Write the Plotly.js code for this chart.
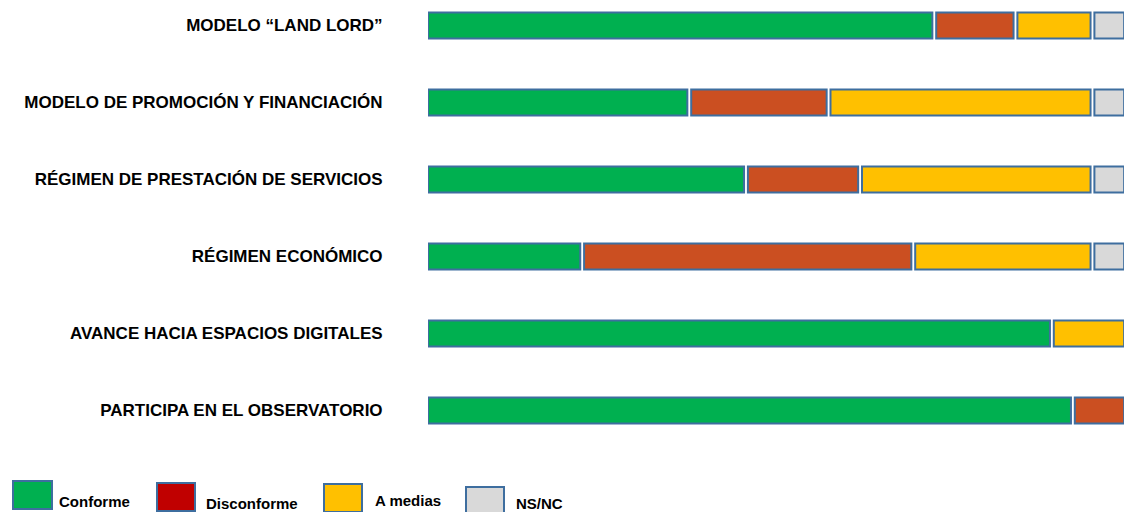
<!DOCTYPE html>
<html>
<head>
<meta charset="utf-8">
<script src="https://cdn.plot.ly/plotly-3.0.1.min.js"></script>
<style>html,body{margin:0;padding:0;background:#fff;}#chart{width:1124px;height:512px;}</style>
</head>
<body>
<div id="chart"></div>
<script>
// ---- data (percent of responses) ----
const categories = ['MODELO “LAND LORD”', 'MODELO DE PROMOCIÓN Y FINANCIACIÓN', 'RÉGIMEN DE PRESTACIÓN DE SERVICIOS', 'RÉGIMEN ECONÓMICO', 'AVANCE HACIA ESPACIOS DIGITALES', 'PARTICIPA EN EL OBSERVATORIO'];
const conforme    = [72.6, 37.6, 45.7, 22.3, 89.4, 92.4];
const disconforme = [11.6, 19.9, 16.3, 47.3, 0, 7.6];
const aMedias     = [11.0, 37.7, 33.2, 25.6, 10.6, 0];
const nsnc        = [4.8, 4.8, 4.8, 4.8, 0, 0];
const seriesNames = ['Conforme', 'Disconforme', 'A medias', 'NS/NC'];

// ---- styles ----
const barColors = ['#00B050', '#CB4F21', '#FFC000', '#D9D9D9'];
const legendColors = ['#00B050', '#C00000', '#FFC000', '#D9D9D9'];
const outline = '#3E6E9F';
const GAP = 0.55;
const W = 1124, H = 512, ML = 428, MB = 52;
const plotW = W - ML, plotH = H - MB;
const FONT = 'Liberation Sans, Arial, sans-serif';

const series = [conforme, disconforme, aMedias, nsnc];
const cum = categories.map(() => 0);
const traces = series.map((vals, s) => {
  const base = cum.slice();
  vals.forEach((v, i) => { cum[i] += v; });
  return {
    type: 'bar', orientation: 'h', name: seriesNames[s],
    y: categories,
    x: vals.map(v => v > 0 ? v - GAP : null),
    base: base,
    width: 0.34,
    marker: {color: barColors[s], line: {color: outline, width: 2}},
    showlegend: false, hoverinfo: 'skip'
  };
});

// legend built as paper shapes/annotations (pixel helpers)
const px2x = p => (p - ML) / plotW;
const px2y = p => (plotH - p) / plotH;
const legendBoxes = [[13, 481, 52, 509], [157, 483, 195, 511], [324, 484, 362, 512], [466, 487, 504, 513]];
const legendText = [[57, 501], [204, 503], [373, 500], [514, 503]];
const shapes = legendBoxes.map((b, i) => ({
  type: 'rect', xref: 'paper', yref: 'paper',
  x0: px2x(b[0]), x1: px2x(b[2]), y0: px2y(b[3]), y1: px2y(b[1]),
  fillcolor: legendColors[i], line: {color: outline, width: 2}
}));
const annotations = legendText.map((t, i) => ({
  xref: 'paper', yref: 'paper', x: px2x(t[0]), y: px2y(t[1]),
  xanchor: 'left', yanchor: 'middle', showarrow: false,
  text: seriesNames[i],
  font: {family: FONT, size: 15, color: '#000', weight: 'bold'}
}));

const layout = {
  width: W, height: H,
  margin: {l: ML, r: 0, t: 0, b: MB, pad: 0},
  paper_bgcolor: '#fff', plot_bgcolor: '#fff',
  barmode: 'overlay',
  showlegend: false,
  xaxis: {range: [0, plotW / 7], showgrid: false, zeroline: false, showticklabels: false, showline: false, ticks: ''},
  yaxis: {
    type: 'category', categoryorder: 'array', categoryarray: categories,
    range: [5.643, -0.331], showgrid: false, zeroline: false, showline: false,
    ticks: 'outside', ticklen: 41, tickcolor: 'rgba(0,0,0,0)',
    tickfont: {family: FONT, size: 17, color: '#000', weight: 'bold'}
  },
  font: {family: FONT},
  shapes: shapes,
  annotations: annotations
};

Plotly.newPlot('chart', traces, layout, {staticPlot: true, displayModeBar: false});
</script>
</body>
</html>
